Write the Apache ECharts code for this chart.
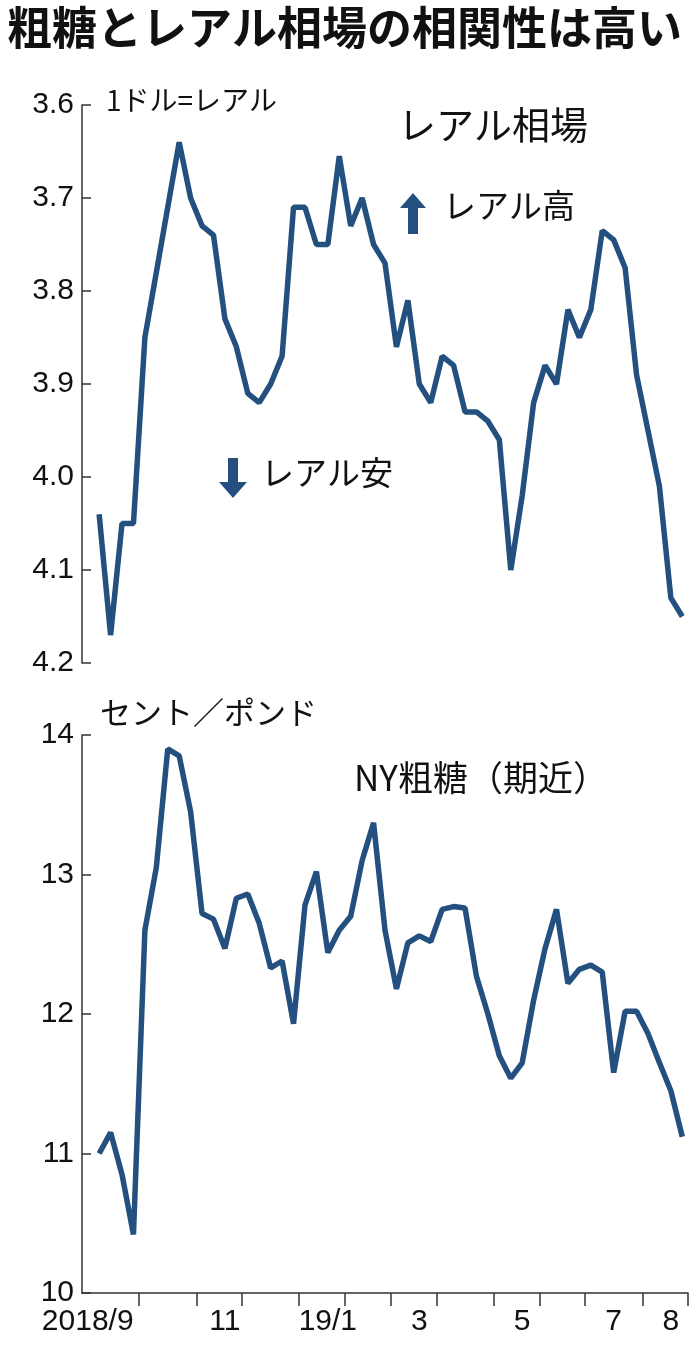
<!DOCTYPE html>
<html>
<head>
<meta charset="utf-8">
<script src="https://cdn.jsdelivr.net/npm/echarts@6/dist/echarts.min.js"></script>
<style>
html,body{margin:0;padding:0;background:#fff;}
#chart{width:698px;height:1367px;}
</style>
</head>
<body>
<div id="chart"></div>
<script>
// months on the axis and how many weeks each one spans
var months = ['2018/9', '10', '11', '12', '19/1', '2', '3', '4', '5', '6', '7', '8'];
var monthWeeks = [5, 5, 4, 5, 4, 4, 4, 5, 4, 4, 5, 4];
var shownMonths = ['2018/9', '11', '19/1', '3', '5', '7', '8'];

// 1ドル=レアル, weekly (first week empty)
var realRate = [null,
  4.04, 4.17, 4.05, 4.05, 3.85, 3.78, 3.71, 3.64, 3.70, 3.73,
  3.74, 3.83, 3.86, 3.91, 3.92, 3.90, 3.87, 3.71, 3.71, 3.75,
  3.75, 3.655, 3.73, 3.70, 3.75, 3.77, 3.86, 3.81, 3.90, 3.92,
  3.87, 3.88, 3.93, 3.93, 3.94, 3.96, 4.10, 4.02, 3.92, 3.88,
  3.90, 3.82, 3.85, 3.82, 3.735, 3.745, 3.775, 3.89, 3.95, 4.01,
  4.13, 4.15];

// NY粗糖 (期近), セント/ポンド
var sugar = [null,
  11.0, 11.15, 10.85, 10.42, 12.6, 13.05, 13.9, 13.85, 13.45, 12.72,
  12.68, 12.47, 12.83, 12.86, 12.65, 12.33, 12.38, 11.93, 12.78, 13.02,
  12.44, 12.6, 12.7, 13.1, 13.37, 12.6, 12.18, 12.51, 12.56, 12.52,
  12.75, 12.77, 12.76, 12.27, 12.0, 11.7, 11.54, 11.65, 12.1, 12.47,
  12.75, 12.22, 12.32, 12.35, 12.3, 11.58, 12.02, 12.02, 11.86, 11.65,
  11.45, 11.12];

var weeks = [], tickIdx = {}, labelIdx = {};
months.forEach(function (m, i) {
  var start = weeks.length;
  tickIdx[start] = true;
  if (shownMonths.indexOf(m) >= 0) labelIdx[start + (i === 0 ? 0 : 2)] = m;
  for (var w = 0; w < monthWeeks[i]; w++) weeks.push(m + '-w' + (w + 1));
});

var chart = echarts.init(document.getElementById('chart'));
var ff = '"Liberation Sans Narrow","Liberation Sans",sans-serif';
var jf = '"Noto Sans CJK JP",sans-serif';
var blue = '#24507f';
var L = 82, R = 10;

function yAxis(idx, min, max, inv, dec) {
  return {
    type: 'value', gridIndex: idx, min: min, max: max, interval: inv ? 0.1 : 1, inverse: inv,
    splitLine: {show: false},
    axisLine: {show: true, lineStyle: {color: '#333', width: 1.5}},
    axisTick: {show: true, inside: true, length: 9, lineStyle: {color: '#333', width: 1.5}},
    axisLabel: {fontFamily: ff, fontSize: 30, color: '#111', margin: 8,
      formatter: function (v) { return v.toFixed(dec); }}
  };
}

chart.setOption({
  animation: false,
  title: {text: '粗糖とレアル相場の相関性は高い', left: 2, top: 0,
    textStyle: {fontFamily: jf, fontSize: 45, fontWeight: 'bold', color: '#111'}},
  grid: [
    {left: L, right: R, top: 105, height: 558},
    {left: L, right: R, top: 735, height: 558}
  ],
  xAxis: [
    {type: 'category', gridIndex: 0, data: weeks, boundaryGap: true,
      axisLine: {show: false}, axisTick: {show: false}, axisLabel: {show: false}},
    {type: 'category', gridIndex: 1, data: weeks, boundaryGap: true,
      axisLine: {show: true, lineStyle: {color: '#333', width: 1.5}},
      axisTick: {show: true, length: 13, lineStyle: {color: '#333', width: 1.5},
        interval: function (i) { return !!tickIdx[i] && i > 0; }},
      axisLabel: {fontFamily: ff, fontSize: 30, color: '#111', margin: 14,
        interval: function (i) { return labelIdx[i] !== undefined; },
        formatter: function (v, i) { return labelIdx[i] || ''; }}}
  ],
  yAxis: [yAxis(0, 3.6, 4.2, true, 1), yAxis(1, 10, 14, false, 0)],
  series: [
    {type: 'line', xAxisIndex: 0, yAxisIndex: 0, data: realRate, showSymbol: false,
      lineStyle: {color: blue, width: 5.5}},
    {type: 'line', xAxisIndex: 1, yAxisIndex: 1, data: sugar, showSymbol: false,
      lineStyle: {color: blue, width: 5.5}}
  ],
  graphic: [
    {type: 'text', left: 106, top: 86, style: {text: '1ドル=レアル', font: '28px ' + jf, fill: '#111'}},
    {type: 'text', left: 398, top: 106, style: {text: 'レアル相場', font: '38px ' + jf, fill: '#111'}},
    {type: 'polygon', shape: {points: [[413, 193], [400, 208], [408, 208], [408, 234], [418, 234], [418, 208], [426, 208]]}, style: {fill: blue}},
    {type: 'text', left: 443, top: 189, style: {text: 'レアル高', font: '33px ' + jf, fill: '#111'}},
    {type: 'polygon', shape: {points: [[228, 458], [238, 458], [238, 482], [247, 482], [233, 498], [219, 482], [228, 482]]}, style: {fill: blue}},
    {type: 'text', left: 261, top: 456, style: {text: 'レアル安', font: '33px ' + jf, fill: '#111'}},
    {type: 'text', left: 100, top: 697, style: {text: 'セント／ポンド', font: '31px ' + jf, fill: '#111'}},
    {type: 'text', left: 354, top: 760, style: {text: 'NY粗糖（期近）', font: '35px ' + jf, fill: '#111'}}
  ]
});
</script>
</body>
</html>
